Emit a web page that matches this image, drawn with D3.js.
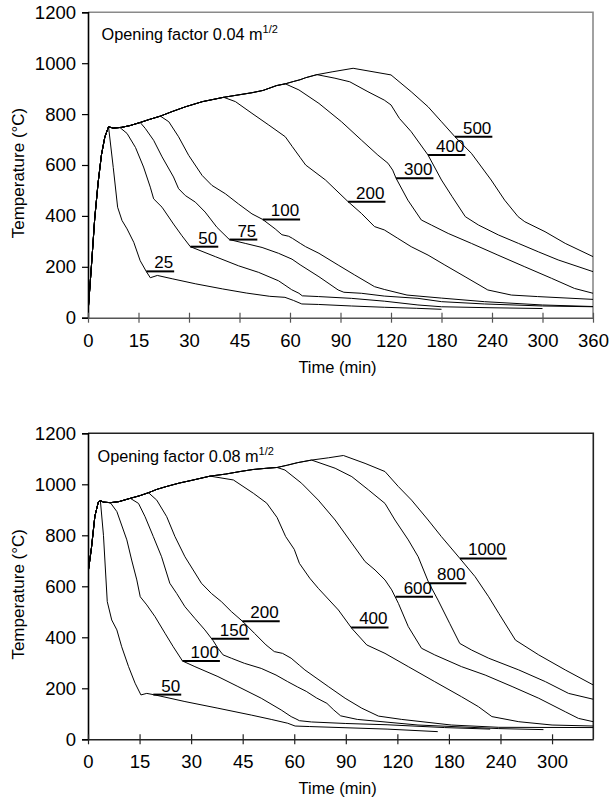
<!DOCTYPE html>
<html>
<head>
<meta charset="utf-8">
<script src="https://cdn.jsdelivr.net/npm/d3@7"></script>
<style>
  html, body { margin: 0; padding: 0; background: #fff; }
  svg { display: block; }
  text { font-family: "Liberation Sans", Arial, Helvetica, sans-serif; fill: #000; }
</style>
</head>
<body>
<svg id="chart" width="609" height="804"></svg>
<script>
// ---- axis tick values ----
const yTicks = [0, 200, 400, 600, 800, 1000, 1200];
const timeTicks04 = [0, 15, 30, 45, 60, 90, 120, 180, 240, 300, 360];
const timeTicks08 = [0, 15, 30, 45, 60, 90, 120, 180, 240, 300];
const timeEnd08 = 348;

// ---- opening factor 0.04 m^1/2 : shared heating branch (min, °C) ----
const heat04 = [[0,20],[1,200],[2,390],[3,530],[4,640],[5,710],[6.1,750],[7.5,745],[10,748],[12.5,755],[15.5,767],[18,778],[21.5,792],[25,810],[29,829],[34,849],[40.3,866],[44,874],[48.7,884],[52,893],[56,912],[58.6,919],[62,928],[66,935],[69.3,943],[76,955],[85,966],[97.5,980]];
// cooling branches per fire load density (MJ/m²)
const loads04 = [25, 50, 75, 100, 200, 300, 400, 500];
const cool04_25 = [[6.1,750],[7.5,590],[8.8,434],[10.1,382],[11.6,349],[13.6,296],[15.5,224],[17.3,182],[18.5,157],[20.6,166],[25,153],[32,133],[40,113],[47,97],[54,84],[58.5,80],[62,68],[67,54],[77,52],[96.5,46],[116,41],[150,37],[180,33]];
const cool04_50 = [[9.5,747],[11.6,724],[14.1,669],[16.5,592],[18.5,513],[19.5,467],[22,434],[25.4,368],[27.9,322],[30.4,279],[37.8,240],[44.7,204],[50.7,178],[56.6,145],[58.5,128],[61,110],[65.3,96],[67.3,86],[77,83],[96.5,76],[116,65],[152,50],[180,43],[240,39],[300,36]];
const cool04_75 = [[15.5,767],[17,744],[19.5,697],[22,632],[25.4,553],[26.9,507],[28.9,480],[31.9,454],[34.8,415],[38.3,355],[42,307],[46.7,292],[51.7,276],[56.6,253],[61.2,230],[66,208],[77.2,161],[88.6,109],[92,100],[102.4,96],[116,85],[152,76],[180,63],[231,54],[300,46],[360,43]];
const cool04_100 = [[21.5,792],[24,770],[26.9,711],[29.9,638],[33.9,559],[36.8,520],[40.8,487],[44.7,447],[48.7,408],[51.9,386],[55.6,349],[57.6,326],[59.6,320],[61.4,312],[66.1,292],[69.3,279],[77.2,253],[88.6,207],[98.4,168],[110.2,122],[116,111],[139,89],[180,77],[231,63],[300,50],[360,44]];
const cool04_200 = [[40.3,866],[43.8,849],[48.7,803],[53.7,757],[58.6,711],[61.4,672],[66,630],[69.3,600],[81.1,541],[94.5,456],[102.4,410],[110.2,358],[116,345],[128,312],[144,279],[164,246],[184,207],[208,161],[235,109],[263,89],[294,83],[360,72]];
const cool04_300 = [[58.6,919],[65.3,895],[77.2,842],[90.6,770],[102.4,698],[112.2,639],[118.2,607],[122,580],[126,548],[140,462],[156,384],[168,364],[188,331],[215.5,292],[247,246],[279,200],[310.6,155],[338,115],[360,96]];
const cool04_400 = [[76,955],[86.7,941],[95.5,927],[106.3,888],[116,855],[120,836],[130,783],[144,731],[164,639],[180,541],[192.6,476],[208.3,397],[224,364],[247.7,325],[271.4,292],[295,259],[318.6,227],[360,181]];
const cool04_500 = [[97.5,980],[120,954],[144,888],[164,829],[180,770],[196,711],[215.5,646],[239,541],[255,462],[271,397],[279,377],[303,338],[327,292],[360,240]];
const labelTime04 = [17.3, 30.4, 42, 51.9, 94.5, 126, 164, 196];

// ---- opening factor 0.08 m^1/2 ----
const heat08 = [[0,651],[1,750],[2,875],[3,930],[3.6,936],[4.5,930],[6.5,928],[9,932],[12.3,945],[15,955],[17.6,967],[20,980],[23,992],[26.6,1005],[30,1015],[35.5,1032],[40,1040],[44.2,1050],[48,1058],[52,1063],[55,1066],[58,1075],[62,1085],[70.1,1095],[80,1104],[88.6,1113]];
const loads08 = [50, 100, 150, 200, 400, 600, 800, 1000];
const cool08_50 = [[3.6,936],[4.5,800],[5.6,540],[6.9,468],[8.4,429],[9.8,363],[11.8,285],[13.7,220],[15.4,174],[17.1,180],[19.5,174],[28.2,148],[37.8,122],[47.5,95],[53.3,78],[58.1,63],[60.5,52],[69,50],[114,40],[167,30]];
const cool08_100 = [[6.5,928],[8.4,893],[11.3,782],[12.7,703],[14.2,625],[15.2,559],[17.1,527],[19.5,481],[22.4,416],[24.8,363],[27.5,307],[31.1,285],[37.8,246],[43.6,207],[50.4,161],[56.2,115],[59.1,89],[61,80],[63,73],[70,68],[90,62],[114,57],[175,46],[228,40]];
const cool08_150 = [[12.3,945],[14.7,925],[16.6,873],[19,795],[21.4,716],[23.8,612],[25.8,572],[28.2,520],[31.1,474],[34,429],[36.4,387],[37.8,357],[39.3,331],[41.7,318],[45.5,298],[50.4,278],[54.7,252],[58.1,226],[62,205],[67,188],[73,162],[79,141],[83,115],[87,92],[96.7,78],[144,56],[238,42],[290,38]];
const cool08_200 = [[17.6,967],[20,938],[22.9,873],[25.3,795],[28.2,716],[30.6,664],[33,612],[35.9,572],[38.8,540],[41.7,501],[45.1,461],[48.4,416],[51.8,370],[54.2,344],[56.6,337],[59.1,318],[62.9,291],[66.2,272],[79.8,207],[89.6,161],[99.3,122],[109,91],[125,78],[182.8,56],[238,47],[348,46]];
const cool08_400 = [[35.5,1032],[42.3,1017],[48.1,965],[52,926],[55,870],[57.5,795],[60,745],[63,690],[69,632],[74,592],[85.7,507],[93.5,435],[102.2,370],[112.8,337],[132.7,285],[163.5,226],[194.6,167],[214.3,128],[230,89],[261.3,69],[300,56],[348,52]];
const cool08_600 = [[55,1066],[57.3,1056],[64.3,1004],[74,938],[83.8,860],[93.5,769],[101.2,697],[107,664],[112.8,625],[116.7,586],[121.2,533],[132.7,442],[148.1,357],[163.5,331],[194.6,285],[222.2,252],[253.5,207],[284.5,161],[315.4,108],[330.7,82],[348,69]];
const cool08_800 = [[70.1,1095],[83.8,1063],[93.5,1030],[103.2,978],[112.8,925],[118.6,860],[132.7,782],[144.2,716],[156.5,614],[167.3,546],[180.8,455],[192.6,376],[206.4,350],[226.2,318],[261.3,272],[292.3,226],[319.2,180],[348,157]];
const cool08_1000 = [[88.6,1113],[101.2,1082],[112.8,1050],[121.2,991],[136.5,938],[155.8,860],[171.2,795],[192.6,710],[210.4,638],[226.2,559],[238,494],[257.4,389],[284.5,331],[315.4,272],[348,213]];
const labelTime08 = [19.0, 27.5, 36.0, 44.9, 93.1, 119, 156.8, 192.8];

// Full curve = heating branch up to the moment it leaves, then its own cooling branch.
function joinCurve(heat, cool) {
  const t0 = cool[0][0];
  return heat.filter(p => p[0] < t0).concat(cool);
}

const svg = d3.select("#chart");
const FONT = '"Liberation Sans", Arial, Helvetica, sans-serif';

function drawPanel(opt) {
  const { left, right, top, bottom, ticks, endTime, heat, cools, loads, labelTimes, title, frameColor, axisColor, titleX, titleY } = opt;
  const n = ticks.length - 1;
  const step = (right - left) / ((endTime - ticks[n]) / (ticks[n] - ticks[n - 1]) + n);
  // piecewise time axis: each labelled interval gets the same width
  const domain = ticks.slice();
  const range = ticks.map((d, i) => left + i * step);
  if (endTime > ticks[n]) { domain.push(endTime); range.push(right); }
  const x = d3.scaleLinear().domain(domain).range(range);
  const y = d3.scaleLinear().domain([0, 1200]).range([bottom, top]);

  const g = svg.append("g");
  const clipId = "clip" + Math.round(top);
  g.append("clipPath").attr("id", clipId)
    .append("rect").attr("x", left).attr("y", top).attr("width", right - left).attr("height", bottom - top);

  // plot frame (top and right)
  g.append("path")
    .attr("d", `M${left},${top}H${right}V${bottom}`)
    .attr("fill", "none").attr("stroke", frameColor).attr("stroke-width", 1.6);

  // curves
  const line = d3.line().x(d => x(d[0])).y(d => y(d[1]));
  const curves = cools.map(c => joinCurve(heat, c));
  g.append("g").attr("clip-path", `url(#${clipId})`)
    .selectAll("path").data(curves).join("path")
    .attr("d", line).attr("fill", "none").attr("stroke", "#000")
    .attr("stroke-width", 1).attr("stroke-linejoin", "round");

  // y axis
  const yAxis = g.append("g").attr("transform", `translate(${left},0)`)
    .call(d3.axisLeft(y).tickValues(yTicks).tickSize(6).tickPadding(6).tickFormat(d3.format("d")));
  yAxis.select(".domain").attr("stroke", "#000").attr("stroke-width", 1.6);
  yAxis.selectAll(".tick line").attr("stroke", "#000").attr("stroke-width", 1.2);
  yAxis.selectAll("text").style("font-family", FONT).style("font-size", "18.5px").attr("fill", "#000");

  // x axis, ticks crossing the axis line
  const xAxis = g.append("g").attr("transform", `translate(0,${bottom})`)
    .call(d3.axisBottom(x).tickValues(ticks).tickSizeInner(5).tickSizeOuter(0).tickPadding(11).tickFormat(d3.format("d")));
  xAxis.select(".domain").attr("stroke", axisColor).attr("stroke-width", 1.6);
  xAxis.selectAll(".tick line").attr("y1", -5).attr("stroke", axisColor).attr("stroke-width", 1.2);
  xAxis.selectAll("text").style("font-family", FONT).style("font-size", "18.5px").attr("fill", "#000");

  // axis titles
  g.append("text").attr("x", (left + right) / 2 - 3).attr("y", bottom + 55)
    .attr("text-anchor", "middle").style("font-size", "16.5px").text("Time (min)");
  g.append("text").attr("transform", `translate(24,${(top + bottom) / 2 + 8}) rotate(-90)`)
    .attr("text-anchor", "middle").style("font-size", "17px").text("Temperature (°C)");

  // panel title with superscript
  const t = g.append("text").attr("x", titleX).attr("y", titleY).style("font-size", "16.3px");
  t.append("tspan").text(title);
  t.append("tspan").attr("dy", -7).style("font-size", "11px").text("1/2");

  // curve labels: underline starts on the curve, number sits right-aligned above it
  const lab = g.append("g");
  loads.forEach((load, i) => {
    const tt = labelTimes[i];
    const pts = curves[i];
    let T = pts[pts.length - 1][1];
    for (let k = 1; k < pts.length; k++) {
      if (pts[k][0] >= tt) {
        const a = pts[k - 1], b = pts[k];
        T = a[1] + (b[1] - a[1]) * (tt - a[0]) / (b[0] - a[0]);
        break;
      }
    }
    const x0 = x(tt), y0 = y(T);
    const txt = lab.append("text").attr("y", y0 - 3).style("font-size", "17px").text(load);
    const w = txt.node().getComputedTextLength();
    const x1 = x0 + w + 9;
    txt.attr("x", x1 - 1).attr("text-anchor", "end");
    lab.append("line").attr("x1", x0).attr("x2", x1).attr("y1", y0).attr("y2", y0)
      .attr("stroke", "#000").attr("stroke-width", 2);
  });
}

drawPanel({
  left: 88, right: 593, top: 12.3, bottom: 317.7,
  ticks: timeTicks04, endTime: 360,
  heat: heat04,
  cools: [cool04_25, cool04_50, cool04_75, cool04_100, cool04_200, cool04_300, cool04_400, cool04_500],
  loads: loads04, labelTimes: labelTime04,
  title: "Opening factor 0.04 m", titleX: 101.5, titleY: 40,
  frameColor: "#8a8a8a", axisColor: "#555"
});

drawPanel({
  left: 88, right: 593.3, top: 433.3, bottom: 739.3,
  ticks: timeTicks08, endTime: timeEnd08,
  heat: heat08,
  cools: [cool08_50, cool08_100, cool08_150, cool08_200, cool08_400, cool08_600, cool08_800, cool08_1000],
  loads: loads08, labelTimes: labelTime08,
  title: "Opening factor 0.08 m", titleX: 97.5, titleY: 462,
  frameColor: "#222", axisColor: "#222"
});
</script>
</body>
</html>
